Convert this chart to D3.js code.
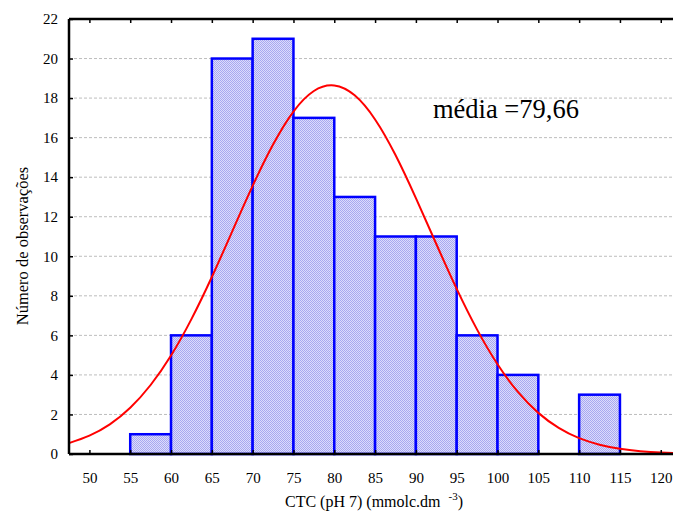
<!DOCTYPE html>
<html>
<head>
<meta charset="utf-8">
<script src="https://cdnjs.cloudflare.com/ajax/libs/d3/7.8.5/d3.min.js"></script>
<style>
  body { margin: 0; background: #fff; }
</style>
</head>
<body>
<svg id="chart"></svg>
<script>
// histogram classes (lower, upper) and counts
const binStarts = [55, 60, 65, 70, 75, 80, 85, 90, 95, 100, 105, 110];
const binWidth = 5;
const counts = [1, 6, 20, 21, 17, 13, 11, 11, 6, 4, 0, 3];

// fitted normal curve
const curveX = [47.5, 50, 52.5, 55, 57.5, 60, 62.5, 65, 67.5, 70, 72.5, 75, 77.5, 80, 82.5, 85, 87.5, 90,
                92.5, 95, 97.5, 100, 102.5, 105, 107.5, 110, 112.5, 115, 117.5, 120, 121.5];
const curveY = [0.55, 0.93, 1.5, 2.34, 3.49, 4.98, 6.82, 8.95, 11.26, 13.56, 15.65, 17.32, 18.36, 18.64, 18.14, 16.92, 15.12, 12.94,
                10.62, 8.35, 6.29, 4.54, 3.14, 2.08, 1.32, 0.8, 0.47, 0.26, 0.14, 0.07, 0.05];

const xTicks = [50, 55, 60, 65, 70, 75, 80, 85, 90, 95, 100, 105, 110, 115, 120];
const yTicks = [0, 2, 4, 6, 8, 10, 12, 14, 16, 18, 20, 22];
const meanLabel = "média =79,66";

const FONT = "Liberation Serif";

const W = 674, H = 514;
const margin = {top: 19, right: 1, bottom: 60, left: 69};
const width = W - margin.left - margin.right,
      height = H - margin.top - margin.bottom;

const svg = d3.select("#chart")
    .attr("width", W)
    .attr("height", H);

const defs = svg.append("defs");
const pat = defs.append("pattern")
    .attr("id", "dots")
    .attr("width", 2).attr("height", 2)
    .attr("patternUnits", "userSpaceOnUse");
pat.append("rect").attr("width", 2).attr("height", 2).attr("fill", "#dcdcfc");
pat.append("rect").attr("width", 1).attr("height", 1).attr("fill", "#a8a8f0");
pat.append("rect").attr("x", 1).attr("y", 1).attr("width", 1).attr("height", 1).attr("fill", "#a8a8f0");

const g = svg.append("g")
    .attr("transform", `translate(${margin.left},${margin.top})`);

const x = d3.scaleLinear()
    .domain([47.5, 121.5])
    .range([0, width]);

const y = d3.scaleLinear()
    .domain([0, 22])
    .range([height, 0]);

// dashed grid
g.append("g")
    .selectAll("line")
    .data(yTicks.filter(d => d > 0 && d < 22))
    .join("line")
      .attr("x1", 0).attr("x2", width)
      .attr("y1", d => y(d)).attr("y2", d => y(d))
      .attr("stroke", "#bdbdbd")
      .attr("stroke-width", 1)
      .attr("stroke-dasharray", "3,2");

// bars
g.append("g")
    .selectAll("rect")
    .data(binStarts.map((s, i) => ({s, n: counts[i]})).filter(d => d.n > 0))
    .join("rect")
      .attr("x", d => x(d.s))
      .attr("y", d => y(d.n))
      .attr("width", d => x(d.s + binWidth) - x(d.s))
      .attr("height", d => y(0) - y(d.n))
      .attr("fill", "url(#dots)")
      .attr("stroke", "#0000ff")
      .attr("stroke-width", 2.5);

// normal curve
const line = d3.line()
    .x((d, i) => x(curveX[i]))
    .y(d => y(d))
    .curve(d3.curveNatural);

g.append("path")
    .datum(curveY)
    .attr("d", line)
    .attr("fill", "none")
    .attr("stroke", "#ff0000")
    .attr("stroke-width", 2);

// frame: left, bottom, top
g.append("line").attr("x1", 0).attr("x2", 0).attr("y1", 0).attr("y2", height)
    .attr("stroke", "#000").attr("stroke-width", 2.5);
g.append("line").attr("x1", 0).attr("x2", width).attr("y1", height).attr("y2", height)
    .attr("stroke", "#000").attr("stroke-width", 2.5);
g.append("line").attr("x1", 0).attr("x2", width).attr("y1", 0).attr("y2", 0)
    .attr("stroke", "#000").attr("stroke-width", 2.5);

// x axis
const xAxis = g.append("g")
    .attr("transform", `translate(0,${height})`)
    .call(d3.axisBottom(x).tickValues(xTicks).tickSize(-4).tickPadding(18));
xAxis.select(".domain").remove();
xAxis.selectAll("line").attr("stroke", "#000").attr("stroke-width", 1.5);
xAxis.selectAll("text").style("font-family", FONT).style("font-size", "15px");

// top ticks
g.append("g")
    .call(d3.axisTop(x).tickValues(xTicks).tickSize(-4).tickFormat(""))
    .call(a => a.select(".domain").remove())
    .selectAll("line").attr("stroke", "#000").attr("stroke-width", 1.5);

// y axis
const yAxis = g.append("g")
    .call(d3.axisLeft(y).tickValues(yTicks).tickSize(-4).tickPadding(11));
yAxis.select(".domain").remove();
yAxis.selectAll("line").attr("stroke", "#000").attr("stroke-width", 1.5);
yAxis.selectAll("text").style("font-family", FONT).style("font-size", "15px");

// mean label
g.append("text")
    .attr("x", 433 - margin.left)
    .attr("y", 118 - margin.top)
    .style("font-family", FONT)
    .style("font-size", "26.5px")
    .text(meanLabel);

// axis titles
svg.append("text")
    .attr("transform", `translate(28,246) rotate(-90)`)
    .attr("text-anchor", "middle")
    .style("font-family", FONT)
    .style("font-size", "16.5px")
    .text("Número de observações");

const xt = svg.append("text")
    .attr("x", 285)
    .attr("y", 507)
    .style("font-family", FONT)
    .style("font-size", "16px");
xt.append("tspan").text("CTC (pH 7) (mmolc.dm");
xt.append("tspan").attr("dy", -7).attr("dx", 8).style("font-size", "11px").text("-3");
xt.append("tspan").attr("dy", 7).text(")");
</script>
</body>
</html>
